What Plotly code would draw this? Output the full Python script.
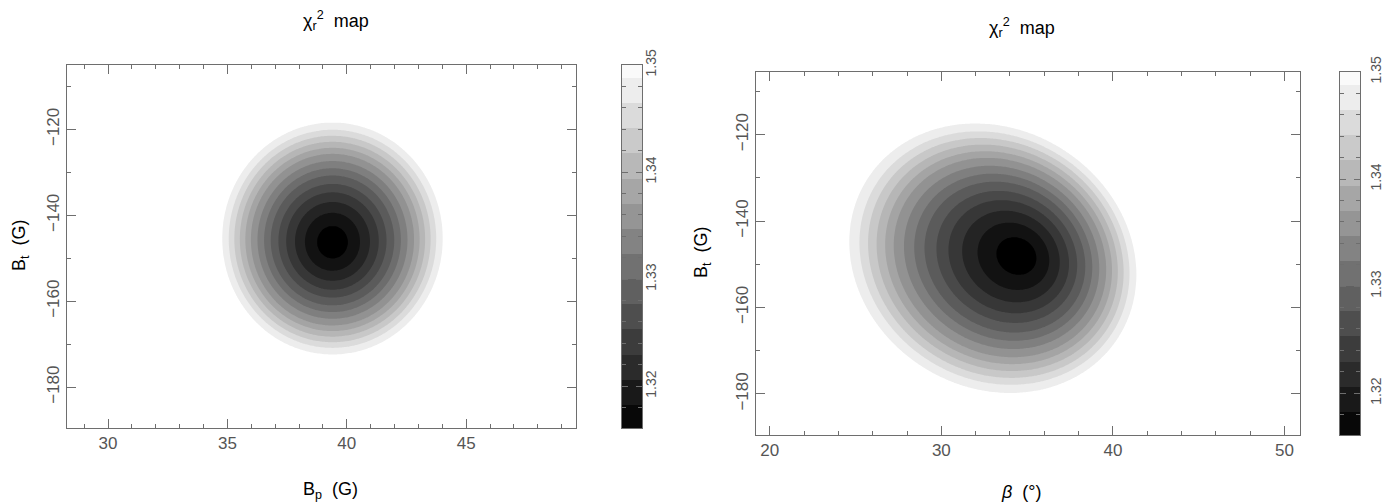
import numpy as np
import plotly.graph_objects as go

# ---------------- data ----------------
# chi2_r contour band edges (grey levels) and colour-bar range/ticks
band_edges = [1.31825, 1.3206, 1.32295, 1.3253, 1.32765, 1.33, 1.33235,
              1.3347, 1.33705, 1.3394, 1.34175, 1.3441, 1.34645, 1.3488]
cbar_range = [1.3161, 1.35]
cbar_ticks = [1.32, 1.33, 1.34, 1.35]
chi2_min = 1.3163
# relative size of each ring (outermost visible ring = 1)
ring_frac = [0.14, 0.25, 0.34, 0.42, 0.49, 0.56, 0.62, 0.68, 0.74, 0.79,
             0.84, 0.89, 0.94, 1.0]

# left map: B_p (G) vs B_t (G)
left_x_range = [28.28, 49.6]
left_y_range = [-189.5, -105.0]
left_core = (39.4, -146.4)         # minimum position
left_outer_center = (39.4, -145.4)
left_semi_axes = (4.62, 27.0)      # outer ring semi-axes (G, G)
left_x_ticks = [30, 35, 40, 45]
left_y_ticks = [-180, -160, -140, -120]

# right map: beta (deg) vs B_t (G)
right_x_range = [19.2, 50.9]
right_y_range = [-189.5, -105.5]
right_core = (34.6, -148.0)        # minimum position
right_outer_center = (33.0, -148.6)
right_semi_axes = (8.6, 7.4)       # in deg-equivalent units
right_tilt_deg = -27.0
right_g_per_deg = 4.07             # display aspect of the right panel
right_x_ticks = [20, 30, 40, 50]
right_y_ticks = [-180, -160, -140, -120]


# ---------------- field construction ----------------
def radial_to_chi2(lam):
    xs = [0.0] + ring_frac + [2.0]
    ys = [chi2_min] + band_edges + [1.40]
    return np.interp(lam, xs, ys)


def ellipse_scale(X, Y, core, ocenter, a, b, theta):
    """relative size lambda of the ring (homothetic about core) through (X,Y)"""
    th = np.deg2rad(theta)
    u1 = np.array([np.cos(th), np.sin(th)])
    u2 = np.array([-np.sin(th), np.cos(th)])
    ex, ey = core[0] - ocenter[0], core[1] - ocenter[1]
    wx, wy = X - core[0], Y - core[1]
    e1 = ex * u1[0] + ey * u1[1]
    e2 = ex * u2[0] + ey * u2[1]
    w1 = wx * u1[0] + wy * u1[1]
    w2 = wx * u2[0] + wy * u2[1]
    Qe = (e1 / a) ** 2 + (e2 / b) ** 2
    Qw = (w1 / a) ** 2 + (w2 / b) ** 2
    B = e1 * w1 / a ** 2 + e2 * w2 / b ** 2
    return (B + np.sqrt(B ** 2 + Qw * (1 - Qe))) / (1 - Qe)


# left
lx = np.linspace(left_x_range[0], left_x_range[1], 320)
ly = np.linspace(left_y_range[0], left_y_range[1], 320)
LX, LY = np.meshgrid(lx, ly)
lam_l = ellipse_scale(LX / left_semi_axes[0], LY / left_semi_axes[1],
                      (left_core[0] / left_semi_axes[0], left_core[1] / left_semi_axes[1]),
                      (left_outer_center[0] / left_semi_axes[0],
                       left_outer_center[1] / left_semi_axes[1]),
                      1.0, 1.0, 0.0)
z_left = radial_to_chi2(lam_l)

# right
rx = np.linspace(right_x_range[0], right_x_range[1], 340)
ry = np.linspace(right_y_range[0], right_y_range[1], 320)
RX, RY = np.meshgrid(rx, ry)
lam_r = ellipse_scale(RX, RY / right_g_per_deg,
                      (right_core[0], right_core[1] / right_g_per_deg),
                      (right_outer_center[0], right_outer_center[1] / right_g_per_deg),
                      right_semi_axes[0], right_semi_axes[1], right_tilt_deg)
z_right = radial_to_chi2(lam_r)

# ---------------- figure ----------------
W, H = 1390, 504
OFF = 8  # page body margin
gray = [[0, "rgb(0,0,0)"], [1, "rgb(255,255,255)"]]
step = band_edges[1] - band_edges[0]
contours = dict(start=band_edges[0], end=band_edges[-1], size=step,
                coloring="fill", showlines=False)

fig = go.Figure()
fig.add_trace(go.Contour(x=lx, y=ly, z=z_left, contours=contours,
                         colorscale=gray, zmin=cbar_range[0], zmax=cbar_range[1],
                         showscale=False, line=dict(width=0),
                         xaxis="x", yaxis="y", hoverinfo="skip"))
fig.add_trace(go.Contour(x=rx, y=ry, z=z_right, contours=contours,
                         colorscale=gray, zmin=cbar_range[0], zmax=cbar_range[1],
                         showscale=False, line=dict(width=0),
                         xaxis="x3", yaxis="y3", hoverinfo="skip"))

# manual colour bars
edges = [cbar_range[0]] + band_edges + [cbar_range[1]]
mids = [(edges[i] + edges[i + 1]) / 2 for i in range(len(edges) - 1)]
for xa, ya in (("x2", "y2"), ("x4", "y4")):
    fig.add_trace(go.Heatmap(x=[0, 1], y=edges, z=[[m] for m in mids],
                             colorscale=gray, zmin=cbar_range[0], zmax=cbar_range[1],
                             showscale=False, xaxis=xa, yaxis=ya, hoverinfo="skip"))

axcol = "#6e6e6e"
tickfont = dict(family="Liberation Sans, Arial, sans-serif", size=17, color="#555555")
cbfont = dict(family="Liberation Sans, Arial, sans-serif", size=14, color="#555555")
common = dict(showline=True, linecolor=axcol, linewidth=1, mirror="ticks",
              ticks="inside", ticklen=9, tickcolor=axcol, tickwidth=1,
              showgrid=False, zeroline=False, tickfont=tickfont, automargin=False)


def px2fx(px):
    return (px - OFF) / W


def px2fy(py):
    return 1 - (py - OFF) / H


L = dict(x0=67, x1=576, y0=65, y1=428)
R = dict(x0=756, x1=1300, y0=72, y1=435)
CL = dict(x0=622, x1=642)
CR = dict(x0=1340, x1=1360)

cb_common = {**common, "ticklen": 6, "tickfont": cbfont}

fig.update_layout(
    width=W, height=H, margin=dict(l=0, r=0, t=0, b=0, pad=0, autoexpand=False),
    autosize=False,
    paper_bgcolor="white", plot_bgcolor="white", showlegend=False,
    xaxis=dict(domain=[px2fx(L["x0"]), px2fx(L["x1"])], range=left_x_range,
               tickvals=left_x_ticks, anchor="y",
               minor=dict(dtick=1, ticks="inside", ticklen=4, tickcolor=axcol), **common),
    yaxis=dict(domain=[px2fy(L["y1"]), px2fy(L["y0"])], range=left_y_range,
               tickvals=left_y_ticks, tickangle=-90, anchor="x",
               minor=dict(dtick=10, ticks="inside", ticklen=4, tickcolor=axcol), **common),
    xaxis2=dict(domain=[px2fx(CL["x0"]), px2fx(CL["x1"])], range=[0, 1],
                showticklabels=False, ticks="", showline=True, linecolor=axcol,
                mirror=True, showgrid=False, zeroline=False, anchor="y2"),
    yaxis2=dict(domain=[px2fy(L["y1"]), px2fy(L["y0"])], range=cbar_range,
                tickvals=cbar_ticks, tickangle=-90, side="right", anchor="x2",
                ticklabelstandoff=-4,
                minor=dict(dtick=0.002, ticks="inside", ticklen=4, tickcolor=axcol),
                **cb_common),
    xaxis3=dict(domain=[px2fx(R["x0"]), px2fx(R["x1"])], range=right_x_range,
                tickvals=right_x_ticks, anchor="y3",
                minor=dict(dtick=2, ticks="inside", ticklen=4, tickcolor=axcol), **common),
    yaxis3=dict(domain=[px2fy(R["y1"]), px2fy(R["y0"])], range=right_y_range,
                tickvals=right_y_ticks, tickangle=-90, anchor="x3",
                minor=dict(dtick=10, ticks="inside", ticklen=4, tickcolor=axcol), **common),
    xaxis4=dict(domain=[px2fx(CR["x0"]), px2fx(CR["x1"])], range=[0, 1],
                showticklabels=False, ticks="", showline=True, linecolor=axcol,
                mirror=True, showgrid=False, zeroline=False, anchor="y4"),
    yaxis4=dict(domain=[px2fy(R["y1"]), px2fy(R["y0"])], range=cbar_range,
                tickvals=cbar_ticks, tickangle=-90, side="right", anchor="x4",
                ticklabelstandoff=3,
                minor=dict(dtick=0.002, ticks="inside", ticklen=4, tickcolor=axcol),
                **cb_common),
)

lab = dict(family="Liberation Sans, Arial, sans-serif", size=18, color="black")
ann = [
    dict(x=px2fx(336), y=px2fy(20), text="χ<sub>r</sub><sup>2</sup>  map"),
    dict(x=px2fx(1022), y=px2fy(28), text="χ<sub>r</sub><sup>2</sup>  map"),
    dict(x=px2fx(330), y=px2fy(490), text="B<sub>p</sub>  (G)"),
    dict(x=px2fx(1022), y=px2fy(492), text="<i>β</i>  (°)"),
    dict(x=px2fx(20), y=px2fy(245), text="B<sub>t</sub>  (G)", textangle=-90),
    dict(x=px2fx(702), y=px2fy(252), text="B<sub>t</sub>  (G)", textangle=-90),
]
for a in ann:
    fig.add_annotation(xref="paper", yref="paper", showarrow=False,
                       xanchor="center", yanchor="middle", font=lab, **a)

fig.write_html("out.html", config={"responsive": False})
